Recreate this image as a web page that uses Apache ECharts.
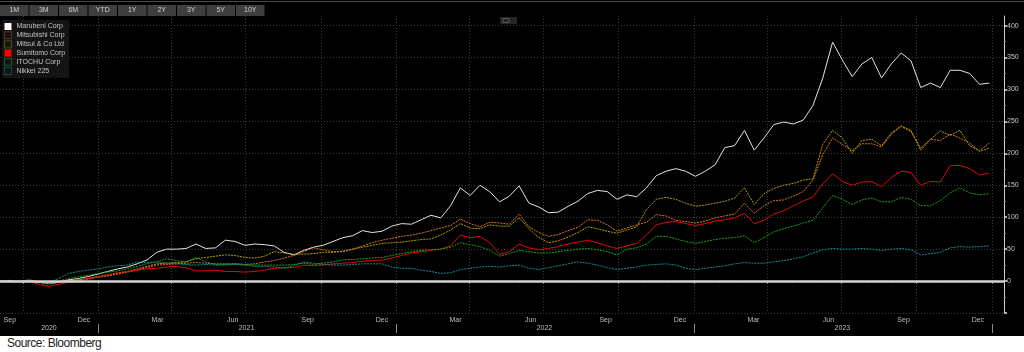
<!DOCTYPE html>
<html>
<head>
<meta charset="utf-8">
<script src="https://cdn.jsdelivr.net/npm/echarts@6/dist/echarts.min.js"></script>
<style>
  html, body { margin: 0; padding: 0; background: #fff; }
  #chart { width: 1024px; height: 336px; background: #000; }
  #source { width: 1024px; height: 16px; line-height: 16px; font: 12px "Liberation Sans", Arial, sans-serif; letter-spacing: -0.5px; color: #222; padding-left: 7px; box-sizing: border-box; }
</style>
</head>
<body>
<div id="chart"></div>
<div id="source">Source: Bloomberg</div>
<script>
// total return %, sampled every 12 days from 2020-09-03
var START = '2020-09-03';
var STEP_DAYS = 12;

var marubeni = [0,1,-1,1,-2,-4,-2,2,4,7, 11,15,19,22,27,33,45,50,50,51, 58,51,52,64,62,56,58,57,55,45,
  41,48,53,56,62,68,71,79,76,78, 86,90,89,96,103,99,118,146,134,150, 140,124,133,149,122,116,107,108,117,125,
  137,142,140,128,135,132,146,165,172,176, 172,164,172,182,209,212,236,205,224,245, 249,246,252,275,318,374,346,320,340,350,
  318,340,357,345,303,310,303,330,330,325, 308,310];
var mitsubishi = [0,1,0,2,-1,-3,-1,0,2,3, 6,8,11,14,17,21,25,26,27,28, 29,28,27,27,27,26,27,30,32,36,
  40,46,52,49,46,46,50,55,60,64, 67,70,72,75,79,83,87,97,90,85, 92,91,89,105,85,76,70,73,79,84,
  96,95,88,78,83,88,92,104,102,95, 93,91,94,99,102,105,122,106,118,126, 127,133,140,158,198,224,214,204,215,215,
  210,230,242,234,208,222,220,230,224,216, 203,208];
var mitsui = [0,-1,1,0,-2,-4,-2,0,2,4, 7,9,12,15,19,23,27,28,29,30, 35,37,39,41,40,37,36,39,46,44,
  42,42,43,45,45,47,50,53,56,59, 60,61,63,65,66,72,80,90,83,82, 88,86,86,99,82,68,60,63,69,76,
  85,82,78,75,80,85,112,128,131,128, 122,117,119,122,125,130,146,120,137,145, 150,153,158,160,214,236,224,200,220,222,
  212,232,243,236,205,222,235,228,236,212, 204,216];
var sumitomo = [0,-1,-2,-1,-5,-8,-5,-2,0,4, 7,10,13,15,17,19,20,22,23,21, 16,16,17,15,15,14,15,17,20,21,
  21,25,24,25,27,28,29,31,32,33, 36,40,44,46,48,50,55,72,68,70, 60,42,46,58,52,49,51,54,58,61,
  64,60,55,51,55,59,72,88,92,93, 90,87,90,94,96,99,106,90,95,105, 110,118,125,132,152,168,156,150,155,156,
  148,162,172,170,150,156,155,181,181,176, 166,169];
var itochu = [0,1,0,1,-2,-4,0,4,7,9, 12,14,16,19,23,27,30,35,32,30, 37,30,26,26,27,26,25,25,25,25,
  26,28,26,28,30,33,34,35,36,37, 40,43,46,48,49,50,53,60,57,54, 48,39,43,48,46,44,44,46,48,50,
  51,49,46,41,50,52,58,70,70,66, 62,59,62,65,67,68,71,60,68,77, 82,86,91,95,115,134,128,120,127,130,
  124,124,131,128,118,118,126,138,146,138, 135,137];
var nikkei = [0,1,0,1,-1,-2,4,12,15,17, 19,22,24,25,30,29,30,28,27,26, 25,26,25,25,26,25,23,23,22,20,
  24,30,28,26,25,25,26,27,27,27, 22,20,20,17,15,12,13,18,20,22, 23,22,24,25,20,18,21,24,27,30,
  28,25,21,18,20,22,25,26,27,25, 20,18,20,22,24,27,29,28,28,30, 32,35,38,44,49,51,50,50,51,50,
  48,50,51,49,41,43,45,52,54,53, 54,55];

var names = ['Marubeni Corp', 'Mitsubishi Corp', 'Mitsui & Co Ltd', 'Sumitomo Corp', 'ITOCHU Corp', 'Nikkei 225'];
var colors = ['#e2e2e2', '#dc7420', '#b3a100', '#dd0a0a', '#18a418', '#178c8c'];
var iconColors = ['#ffffff', '#9a4c18', '#8f8700', '#ff0000', '#16a016', '#167f7f'];
var filledIcon = [true, false, false, true, false, false];
var dotted = [false, true, true, false, true, true];
var values = [marubeni, mitsubishi, mitsui, sumitomo, itochu, nikkei];

var quarterStarts = ['2020-10-01','2021-01-01','2021-04-01','2021-07-01','2021-10-01','2022-01-01','2022-04-01',
  '2022-07-01','2022-10-01','2023-01-01','2023-04-01','2023-07-01','2023-10-01','2024-01-01'];
var monthLabelDates = ['2020-09-15','2020-12-15','2021-03-15','2021-06-15','2021-09-15','2021-12-15','2022-03-15',
  '2022-06-15','2022-09-15','2022-12-15','2023-03-15','2023-06-15','2023-09-15','2023-12-15'];
var yearBounds = ['2021-01-01','2022-01-01','2023-01-01','2024-01-01'];
var yearLabelDates = ['2020-11-02','2021-07-02','2022-07-02','2023-07-02'];
var yTicks = [-50,0,50,100,150,200,250,300,350,400];
var yLabels = [0,50,100,150,200,250,300,350,400];
var yMinorTicks = [-25,25,75,125,175,225,275,325,375];
var buttons = ['1M','3M','6M','YTD','1Y','2Y','3Y','5Y','10Y'];
var monthNames = ['Jan','Feb','Mar','Apr','May','Jun','Jul','Aug','Sep','Oct','Nov','Dec'];

function ts(s) {
  var p = s.split('-');
  return Date.UTC(+p[0], +p[1] - 1, +p[2]);
}

var monthStarts = [];
for (var y = 2020; y <= 2024; y++) {
  for (var m = 1; m <= 12; m++) {
    var s = y + '-' + (m < 10 ? '0' + m : m) + '-01';
    if (s >= '2020-10-01' && s <= '2024-01-01') monthStarts.push(ts(s));
  }
}

var times = marubeni.map(function (v, i) { return ts(START) + i * STEP_DAYS * 86400000; });

var X_MIN = ts('2020-09-03'), X_MAX = ts('2024-01-16');
var FONT = 'Liberation Sans';

var series = names.map(function (n, k) {
  return {
    name: n,
    type: 'line',
    showSymbol: false,
    symbol: 'none',
    data: times.map(function (t, i) { return [t, values[k][i]]; }),
    lineStyle: { width: 1, color: colors[k], type: dotted[k] ? [2, 1] : 'solid' },
    itemStyle: { color: colors[k] }
  };
});
series[series.length - 1].markLine = {
  silent: true,
  symbol: 'none',
  label: { show: false },
  lineStyle: { color: '#d4d4d4', width: 2.5, type: 'solid' },
  data: [{ yAxis: 0 }]
};

var graphic = [
  { type: 'rect', shape: { x: 0, y: 1, width: 1024, height: 1 }, style: { fill: '#4a4a4a' }, silent: true },
  { type: 'rect', shape: { x: 500, y: 17, width: 17, height: 7 }, style: { fill: '#262626' }, silent: true },
  { type: 'rect', shape: { x: 503, y: 18.5, width: 6, height: 4 }, style: { fill: 'none', stroke: '#555', lineWidth: 1 }, silent: true }
];
buttons.forEach(function (b, i) {
  graphic.push({ type: 'rect', shape: { x: i * 29.5, y: 5, width: 28.5, height: 11 }, style: { fill: '#3e3e3e' }, silent: true });
  graphic.push({ type: 'text', x: i * 29.5 + 14.25, y: 10.5, silent: true,
    style: { text: b, fill: '#cfcfcf', font: '7px ' + FONT, align: 'center', verticalAlign: 'middle' } });
});

function xBase() {
  return { type: 'value', position: 'bottom', min: X_MIN, max: X_MAX, axisLine: { show: false }, splitLine: { show: false } };
}

var chart = echarts.init(document.getElementById('chart'));
chart.setOption({
  backgroundColor: '#000',
  animation: false,
  graphic: graphic,
  legend: {
    orient: 'vertical',
    left: 2,
    top: 20,
    padding: [3, 4, 3, 2],
    backgroundColor: '#141414',
    itemWidth: 7,
    itemHeight: 7,
    itemGap: 1.2,
    selectedMode: false,
    textStyle: { color: '#c4c4c4', fontSize: 7, fontFamily: FONT, lineHeight: 7 },
    data: names.map(function (n, k) {
      return {
        name: n,
        icon: 'rect',
        itemStyle: filledIcon[k]
          ? { color: iconColors[k], borderWidth: 0 }
          : { color: 'rgba(0,0,0,0)', borderColor: iconColors[k], borderWidth: 1, borderType: [1, 1] }
      };
    })
  },
  grid: { left: 0, right: 20, top: 16, bottom: 23, containLabel: false },
  xAxis: [
    Object.assign(xBase(), {
      axisTick: { show: true, customValues: quarterStarts.map(ts), length: 3, lineStyle: { color: '#8a8a8a' } },
      splitLine: { show: true, lineStyle: { color: '#3c3c3c', width: 1, type: [1, 2] } },
      axisLabel: {
        customValues: monthLabelDates.map(ts), margin: 4, fontSize: 7, fontFamily: FONT, color: '#bdbdbd',
        formatter: function (v) { return monthNames[new Date(v).getUTCMonth()]; }
      }
    }),
    Object.assign(xBase(), {
      axisTick: { show: true, customValues: monthStarts, length: 2, lineStyle: { color: '#6a6a6a' } },
      axisLabel: { show: false }
    }),
    Object.assign(xBase(), {
      offset: 11,
      axisTick: { show: true, customValues: yearBounds.map(ts), length: 9, lineStyle: { color: '#8a8a8a' } },
      axisLabel: {
        customValues: yearLabelDates.map(ts), margin: 1, fontSize: 7, fontFamily: FONT, color: '#bdbdbd',
        formatter: function (v) { return String(new Date(v).getUTCFullYear()); }
      }
    })
  ],
  yAxis: [
    {
      type: 'value', position: 'right', min: -50, max: 415,
      axisLine: { show: true, lineStyle: { color: '#cfcfcf', width: 1 } },
      axisTick: { show: true, customValues: yTicks, length: 3, lineStyle: { color: '#e0e0e0', width: 1.5 } },
      splitLine: { show: true, lineStyle: { color: '#3c3c3c', width: 1, type: [1, 2] } },
      axisLabel: { customValues: yLabels, margin: 3, fontSize: 7, fontFamily: FONT, color: '#c8c8c8' }
    },
    {
      type: 'value', position: 'right', min: -50, max: 415,
      axisLine: { show: false },
      axisTick: { show: true, customValues: yMinorTicks, length: 2, lineStyle: { color: '#9a9a9a' } },
      splitLine: { show: false },
      axisLabel: { show: false }
    }
  ],
  series: series
});
</script>
</body>
</html>
